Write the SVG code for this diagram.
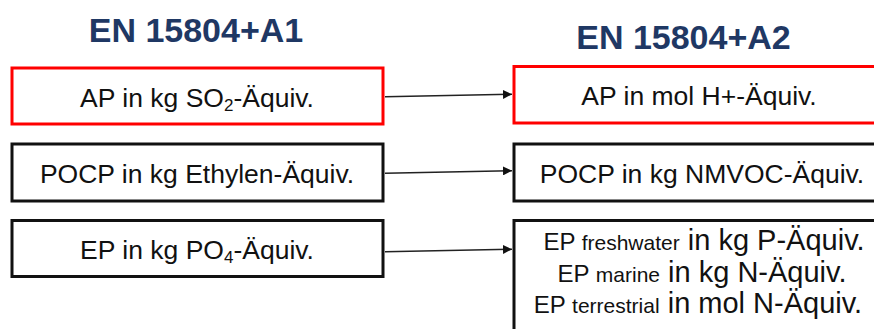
<svg xmlns="http://www.w3.org/2000/svg" width="874" height="329" viewBox="0 0 874 329">
  <defs>
    <style>
      .title { font-family: "Liberation Sans", Arial, sans-serif; font-weight: bold; font-size: 34px; fill: #1F3864; text-anchor: middle; }
      .lbl { font-family: "Liberation Sans", Arial, sans-serif; font-size: 26.5px; fill: #111; text-anchor: middle; }
      .red { fill: #fff; stroke: #FF0000; stroke-width: 3; }
      .blk { fill: #fff; stroke: #111; stroke-width: 3; }
      .conn { stroke: #222; stroke-width: 1.5; fill: none; marker-end: url(#arrow); }
    </style>
    <marker id="arrow" markerUnits="userSpaceOnUse" markerWidth="10" markerHeight="9" refX="9" refY="4.5" orient="auto">
      <path d="M0,0 L9,4.5 L0,9 Z" fill="#111"/>
    </marker>
  </defs>
  <rect width="874" height="329" fill="#fff"/>

  <text id="title-a1" class="title" x="196" y="42">EN 15804+A1</text>
  <text id="title-a2" class="title" x="683.5" y="49">EN 15804+A2</text>

  <g id="connectors">
    <path class="conn" d="M385,96.7 L512,94.3"/>
    <path class="conn" d="M385,173.3 L512,170.7"/>
    <path class="conn" d="M385,251.7 L512,249.3"/>
  </g>

  <g id="a1-ap">
    <rect class="red" x="12" y="68" width="371" height="56"/>
    <text class="lbl" x="197" y="107">AP in kg SO<tspan font-size="17" dy="4">2</tspan><tspan dy="-4">-Äquiv.</tspan></text>
  </g>
  <g id="a1-pocp">
    <rect class="blk" x="12" y="144" width="371" height="57"/>
    <text class="lbl" x="197" y="183">POCP in kg Ethylen-Äquiv.</text>
  </g>
  <g id="a1-ep">
    <rect class="blk" x="12" y="220.5" width="371" height="56"/>
    <text class="lbl" x="197" y="259">EP in kg PO<tspan font-size="17" dy="4">4</tspan><tspan dy="-4">-Äquiv.</tspan></text>
  </g>

  <g id="a2-ap">
    <rect class="red" x="514" y="66.5" width="373" height="56.5"/>
    <text class="lbl" x="699" y="104.5">AP in mol H+-Äquiv.</text>
  </g>
  <g id="a2-pocp">
    <rect class="blk" x="514" y="144" width="373" height="57"/>
    <text class="lbl" x="702" y="183">POCP in kg NMVOC-Äquiv.</text>
  </g>
  <g id="a2-ep">
    <rect class="blk" x="514" y="220.5" width="373" height="130"/>
    <text class="lbl" x="704" y="250"><tspan font-size="24">EP </tspan><tspan font-size="21">freshwater</tspan><tspan font-size="29"> in kg P-Äquiv.</tspan></text>
    <text class="lbl" x="702" y="282"><tspan font-size="24">EP </tspan><tspan font-size="21">marine</tspan><tspan font-size="29"> in kg N-Äquiv.</tspan></text>
    <text class="lbl" x="698" y="313"><tspan font-size="24">EP </tspan><tspan font-size="21">terrestrial</tspan><tspan font-size="29"> in mol N-Äquiv.</tspan></text>
  </g>
</svg>
